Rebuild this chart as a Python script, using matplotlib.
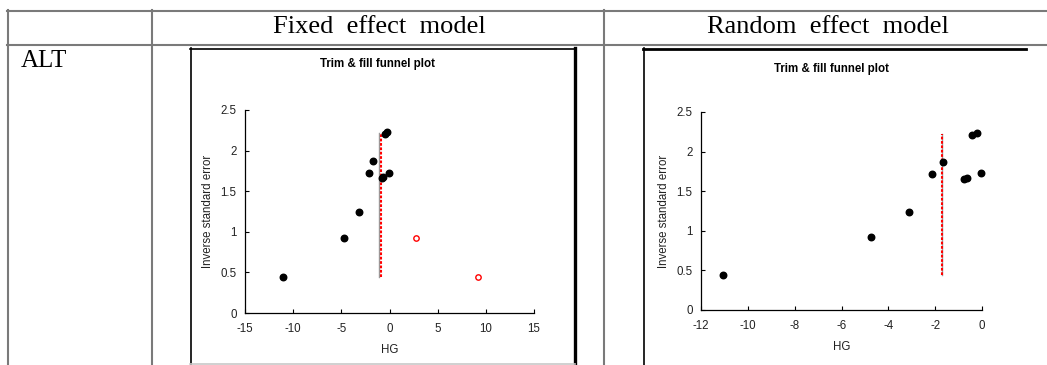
import matplotlib
matplotlib.use("Agg")
import matplotlib.pyplot as plt
from matplotlib.lines import Line2D

# Data
hg = [-11.05, -4.75, -3.13, -2.14, -1.67, -0.75, -0.63, -0.05, -0.43, -0.22]
inv_se = [0.44, 0.92, 1.24, 1.72, 1.87, 1.66, 1.67, 1.73, 2.21, 2.23]
imputed_hg = [2.8, 9.2]
imputed_inv_se = [0.92, 0.44]
fixed_est = -0.91
fixed_obs = -1.07
random_est = -1.70
line_span = [0.44, 2.22]

col_titles = ["Fixed  effect  model", "Random  effect  model"]
row_label = "ALT"
fixed_xticks = [-15, -10, -5, 0, 5, 10, 15]
random_xticks = [-12, -10, -8, -6, -4, -2, 0]
yticks = [0, 0.5, 1, 1.5, 2, 2.5]

W, H = 1047, 365
plt.rcParams['font.family'] = ['Liberation Sans', 'DejaVu Sans']
plt.rcParams['axes.unicode_minus'] = False
fig = plt.figure(figsize=(W / 100, H / 100), dpi=100)


def px(x0, y0, x1, y1):
    # pixel box (top-left origin) -> figure fraction rect
    return [x0 / W, 1 - y1 / H, (x1 - x0) / W, (y1 - y0) / H]


def hline(x0, x1, y, color='#7a7a7a', lw=1.5):
    fig.add_artist(Line2D([x0 / W, x1 / W], [1 - y / H, 1 - y / H], color=color, lw=lw))


def vline(x, y0, y1, color='#7a7a7a', lw=1.5):
    fig.add_artist(Line2D([x / W, x / W], [1 - y0 / H, 1 - y1 / H], color=color, lw=lw))


# table grid
hline(7, W, 10.5)
hline(7, W, 44.5)
vline(7.5, 10, H)
vline(152, 10, H)
vline(604, 10, H)

fig.text(379 / W, 1 - 27 / H, col_titles[0], ha='center', va='center',
         family='Liberation Serif', fontsize=19)
fig.text(828 / W, 1 - 27 / H, col_titles[1], ha='center', va='center',
         family='Liberation Serif', fontsize=19)
fig.text(21 / W, 1 - 61 / H, row_label, ha='left', va='center',
         family='Liberation Serif', fontsize=18)

# chart boxes
hline(190, 575, 48.5, color='black', lw=1.2)
vline(190.5, 48, H, color='black', lw=1.2)
vline(575, 48, H, color='black', lw=2.4)
hline(190, 575, 363.5, color='#c8c8c8', lw=1.2)
hline(643, 1026, 48.5, color='black', lw=2.0)
vline(643.5, 48, H, color='black', lw=1.2)

FS = 8.3


def rect_mid(rect):
    return H - (rect[1] + rect[3] / 2) * H


def funnel(rect, xticks, est, obs, box_cx, title_y, ylab_x, xlab_y, imputed=False):
    ax = fig.add_axes(rect)
    ax.scatter(hg, inv_se, s=22, color='black', zorder=3, clip_on=False)
    if imputed:
        ax.scatter(imputed_hg, imputed_inv_se, s=15, facecolors='white',
                   edgecolors='red', linewidths=1.0, zorder=3)
    ax.plot([obs, obs], line_span, color='#9a9a9a', lw=1.0, zorder=1)
    ax.plot([est, est], line_span, color='red', lw=1.5, linestyle=(0, (1.3, 0.8)), zorder=2)
    ax.set_xlim(xticks[0], xticks[-1])
    ax.set_ylim(0, 2.5)
    ax.set_xticks(xticks)
    ax.set_yticks(yticks)
    ax.set_yticklabels(['0', '0.5', '1', '1.5', '2', '2.5'])
    for s in ['top', 'right']:
        ax.spines[s].set_visible(False)
    for s in ['left', 'bottom']:
        ax.spines[s].set_linewidth(0.9)
    ax.tick_params(direction='in', length=3, width=0.8, labelsize=FS,
                   labelcolor='#222222', pad=6)
    ax.tick_params(axis='x', pad=7.5)
    ax.patch.set_alpha(0)
    fig.text(box_cx / W, 1 - title_y / H, 'Trim & fill funnel plot', ha='center',
             va='center', fontsize=FS, fontweight='bold')
    fig.text(ylab_x / W, 1 - rect_mid(rect) / H, 'Inverse standard error',
             rotation=90, ha='center', va='center', fontsize=FS, color='#222222')
    fig.text(rect[0] + rect[2] / 2, 1 - xlab_y / H, 'HG', ha='center',
             va='center', fontsize=FS, color='#222222')
    return ax


funnel(px(245, 110, 534, 313), fixed_xticks, fixed_est, fixed_obs, 378, 64, 208, 350,
       imputed=True)
funnel(px(701, 112, 982, 310), random_xticks, random_est, random_est - 0.02, 831, 69,
       664, 347)

fig.savefig('out.png', dpi=100)
